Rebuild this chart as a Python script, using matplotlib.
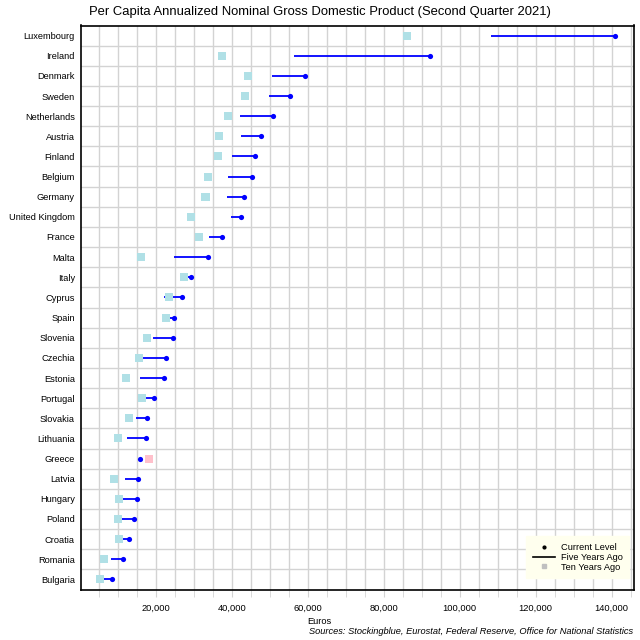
import matplotlib
matplotlib.use("Agg")
import matplotlib.pyplot as plt
from matplotlib.lines import Line2D
from matplotlib.ticker import MultipleLocator, FuncFormatter

plt.rcParams['font.family'] = ['Liberation Sans', 'DejaVu Sans']

# Per capita GDP in euros
countries = ["Luxembourg", "Ireland", "Denmark", "Sweden", "Netherlands", "Austria",
             "Finland", "Belgium", "Germany", "United Kingdom", "France", "Malta",
             "Italy", "Cyprus", "Spain", "Slovenia", "Czechia", "Estonia", "Portugal",
             "Slovakia", "Lithuania", "Greece", "Latvia", "Hungary", "Poland",
             "Croatia", "Romania", "Bulgaria"]
current = [140800, 92200, 59300, 55300, 50900, 47600, 46200, 45300, 43300, 42500,
           37500, 33800, 29400, 27000, 24900, 24600, 22600, 22300, 19600, 17800,
           17450, 15950, 15400, 15000, 14400, 12900, 11500, 8600]
five_years = [108200, 56400, 50600, 49800, 42200, 42400, 40100, 39000, 38800, 39800,
              34000, 24800, 28200, 22300, 23500, 19300, 16400, 15900, 17200, 14800,
              12450, 16100, 12000, 11100, 10600, 10900, 8200, 5900]
ten_years = [86100, 37400, 44300, 43500, 39000, 36700, 36500, 33800, 33100, 29400,
             31400, 16200, 27500, 23600, 22700, 17800, 15600, 12200, 16500, 13000,
             10000, 18300, 9100, 10400, 10000, 10400, 6400, 5400]

fig = plt.figure(figsize=(6.4, 6.4), dpi=100)
ax = fig.add_axes([80.5 / 640, 1 - 589.5 / 640, 553.5 / 640, 564 / 640])

ypos = list(range(len(countries)))

ax.hlines(ypos, five_years, current, color="#0000FF", lw=1.3, zorder=3)
square_colors = ["#FFC0CB" if t > c else "#B0E0E6" for t, c in zip(ten_years, current)]
ax.scatter(ten_years, ypos, marker="s", s=34, c=square_colors, linewidths=0, zorder=4)
ax.scatter(current, ypos, marker="o", s=14, c="#0000FF", linewidths=0, zorder=5)

ax.set_xlim(210, 145870)
ax.set_ylim(len(countries) - 0.5, -0.5)
ax.set_yticks(ypos)
ax.set_yticklabels(countries, fontsize=6.7)
ax.set_yticks([y + 0.5 for y in ypos[:-1]], minor=True)

ax.xaxis.set_major_locator(MultipleLocator(20000))
ax.xaxis.set_minor_locator(MultipleLocator(5000))
ax.xaxis.set_major_formatter(FuncFormatter(lambda v, p: f"{int(v):,}"))
ax.tick_params(axis="x", which="both", length=5, color="#D3D3D3", labelsize=6.7, pad=5)
ax.tick_params(axis="y", which="both", length=0, pad=4)

ax.grid(True, which="minor", color="#D3D3D3", lw=1)
ax.grid(False, which="major", axis="y")
ax.grid(True, which="major", axis="x", color="#D3D3D3", lw=1)
ax.set_axisbelow(True)
for s in ax.spines.values():
    s.set_linewidth(1.2)
    s.set_color("black")

handles = [
    Line2D([], [], color="black", marker="o", markersize=2, linestyle="none"),
    Line2D([], [], color="black", lw=1.2),
    Line2D([], [], color="#C0C0C0", marker="s", markersize=3, linestyle="none"),
]
leg = ax.legend(handles, ["Current Level", "Five Years Ago", "Ten Years Ago"],
                loc="lower right", bbox_to_anchor=(0.991, 0.02), fontsize=6.7,
                frameon=True, fancybox=False, framealpha=1, handlelength=2.4,
                handletextpad=0.6, labelspacing=0.1, borderpad=0.7, borderaxespad=0)
leg.get_frame().set_facecolor("#FFFFEE")
leg.get_frame().set_edgecolor("#FFFFEE")

fig.text(0.5, 1 - 12 / 640, "Per Capita Annualized Nominal Gross Domestic Product (Second Quarter 2021)",
         ha="center", va="center", fontsize=9.4)
fig.text(319 / 640, 1 - 622 / 640, "Euros", ha="center", va="center", fontsize=6.7)
fig.text(309 / 640, 1 - 631.5 / 640,
         "Sources: Stockingblue, Eurostat, Federal Reserve, Office for National Statistics",
         ha="left", va="center", fontsize=6.7, style="italic")

fig.savefig("out.png", dpi=100)
